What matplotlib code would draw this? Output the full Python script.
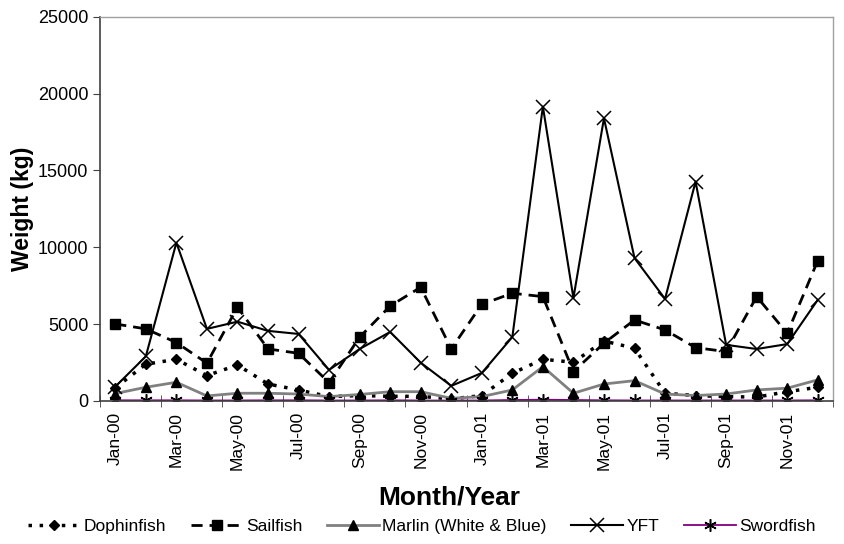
import matplotlib.pyplot as plt
import numpy as np

plt.rcParams['font.family'] = ['Liberation Sans', 'DejaVu Sans']

months = ['Jan-00', 'Feb-00', 'Mar-00', 'Apr-00', 'May-00', 'Jun-00',
          'Jul-00', 'Aug-00', 'Sep-00', 'Oct-00', 'Nov-00', 'Dec-00',
          'Jan-01', 'Feb-01', 'Mar-01', 'Apr-01', 'May-01', 'Jun-01',
          'Jul-01', 'Aug-01', 'Sep-01', 'Oct-01', 'Nov-01', 'Dec-01']

dophinfish = [850, 2390, 2710, 1650, 2340, 1100, 715, 280, 350, 300, 300, 130,
              350, 1800, 2710, 2520, 3900, 3430, 500, 350, 280, 250, 600, 890]
sailfish = [5010, 4690, 3800, 2460, 6100, 3385, 3100, 1190, 4150, 6180, 7400, 3385,
            6290, 7010, 6790, 1910, 3760, 5270, 4620, 3470, 3210, 6790, 4400, 9130]
marlin = [480, 890, 1215, 325, 500, 500, 450, 280, 420, 600, 600, 170,
          280, 715, 2230, 500, 1100, 1320, 450, 350, 450, 715, 830, 1370]
yft = [930, 2900, 10300, 4690, 5160, 4560, 4360, 2020, 3380, 4490, 2490, 980,
       1820, 4160, 19160, 6700, 18400, 9300, 6640, 14280, 3650, 3380, 3700, 6580]
swordfish = [40, 40, 40, 30, 30, 40, 40, 30, 30, 40, 30, 20,
             30, 60, 80, 60, 40, 30, 30, 30, 30, 30, 30, 40]

x = np.arange(len(months))

fig = plt.figure(figsize=(8.44, 5.44), dpi=100)
ax = fig.add_axes([0.1185, 0.263, 0.8685, 0.706])

ax.plot(x, dophinfish, color='black', linestyle=(0, (1, 2.2)), linewidth=2.5,
        marker='D', markersize=5.5, label='Dophinfish')
ax.plot(x, sailfish, color='black', linestyle=(0, (4, 2.5)), linewidth=2,
        marker='s', markersize=7, label='Sailfish')
ax.plot(x, marlin, color='#808080', linewidth=2, marker='^', markersize=7,
        markerfacecolor='black', markeredgecolor='black',
        label='Marlin (White & Blue)')
ax.plot(x, yft, color='black', linewidth=1.5, marker='x', markersize=10,
        markeredgewidth=1.1, label='YFT')
ax.plot(x, swordfish, color='#800080', linewidth=1.3, marker=(6, 2, 0),
        markersize=9, markeredgecolor='black', markeredgewidth=1.1,
        label='Swordfish')

ax.set_xlim(-0.5, len(months) - 0.5)
ax.set_ylim(0, 25000)
ax.set_yticks(np.arange(0, 25001, 5000))

ax.set_xticks(x[::2])
ax.set_xticklabels(months[::2], rotation=90)
ax.set_xticks(np.arange(-0.5, len(months), 2), minor=True)
ax.tick_params(axis='x', which='major', length=0, pad=8, labelsize=12.5)
ax.tick_params(axis='x', which='minor', direction='inout', length=8, color='#404040')
ax.tick_params(axis='y', direction='out', length=5, labelsize=13, color='#404040')

for side in ['left', 'bottom']:
    ax.spines[side].set_color('#404040')
    ax.spines[side].set_linewidth(1.2)
for side in ['top', 'right']:
    ax.spines[side].set_color('#a0a0a0')
    ax.spines[side].set_linewidth(1)

ax.set_ylabel('Weight (kg)', fontsize=16.5, fontweight='bold', labelpad=3)
fig.text(0.532, 0.086, 'Month/Year', fontsize=19, fontweight='bold',
         ha='center', va='center')

fig.legend(loc='center', bbox_to_anchor=(0.5, 0.032), ncol=5, frameon=False,
           fontsize=12.5, handlelength=3.0, handletextpad=0.2, columnspacing=1.4,
           borderaxespad=0, borderpad=0)

fig.savefig('out.png', dpi=100)
